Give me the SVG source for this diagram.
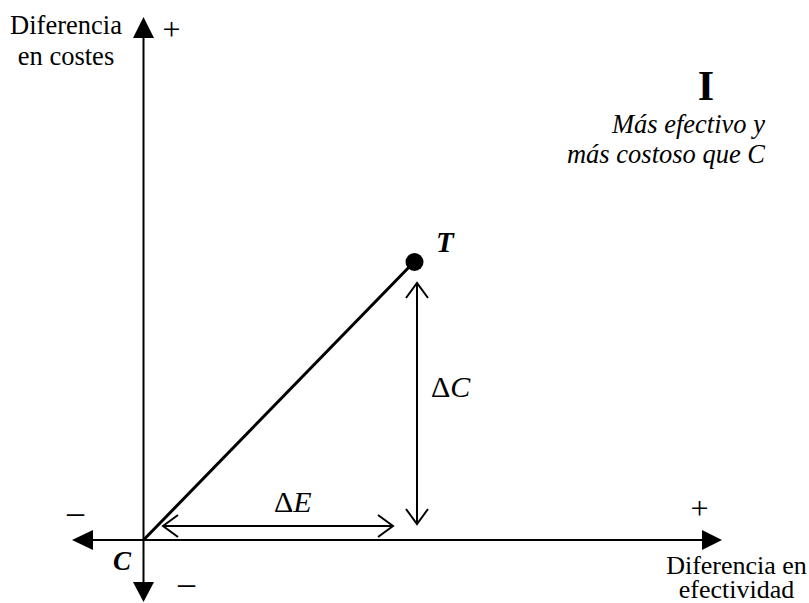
<svg xmlns="http://www.w3.org/2000/svg" width="809" height="603" viewBox="0 0 809 603">
<style>
.t{font-family:"Liberation Serif","Times New Roman",serif;fill:#000}
.ax{stroke:#000;stroke-width:2;fill:none}
.dim{stroke:#000;stroke-width:2;fill:none}
</style>
<defs>
<marker id="open" viewBox="0 0 20 24" refX="18" refY="12" markerWidth="20" markerHeight="24" markerUnits="userSpaceOnUse" orient="auto-start-reverse">
<path d="M3,1 L18,12 L3,23" fill="none" stroke="#000" stroke-width="2"/>
</marker>
</defs>
<rect width="809" height="603" fill="#fff"/>
<g id="connectors">
<line class="ax" x1="143.5" y1="36" x2="143.5" y2="585"/>
<polygon points="143.5,17 133,38 154,38"/>
<polygon points="143.5,602 133,582 154,582"/>
<line class="ax" x1="90" y1="540" x2="705" y2="540"/>
<polygon points="72,540 93,530 93,550"/>
<polygon points="722,540 702,530 702,550"/>
<line x1="143.5" y1="540" x2="414" y2="262" stroke="#000" stroke-width="3"/>
<line class="dim" x1="417" y1="283" x2="417" y2="524" marker-start="url(#open)" marker-end="url(#open)"/>
<line class="dim" x1="163" y1="526" x2="393" y2="526" marker-start="url(#open)" marker-end="url(#open)"/>
</g>
<g id="T">
<circle cx="414.5" cy="262" r="9"/>
<text class="t" x="436" y="252" font-size="29" font-weight="bold" font-style="italic">T</text>
</g>
<g id="C">
<text class="t" x="113" y="570" font-size="27" font-weight="bold" font-style="italic">C</text>
</g>
<g id="labels">
<text class="t" font-size="26.5" text-anchor="middle"><tspan x="66" y="34">Diferencia</tspan><tspan x="66" y="65">en costes</tspan></text>
<text class="t" x="171.5" y="40" font-size="32" text-anchor="middle">+</text>
<text class="t" x="699.5" y="519" font-size="32" text-anchor="middle">+</text>
<text class="t" x="75.5" y="523" font-size="34" text-anchor="middle">–</text>
<text class="t" x="186.5" y="594" font-size="34" text-anchor="middle">–</text>
<text class="t" font-size="26" text-anchor="middle"><tspan x="736.5" y="574">Diferencia en</tspan><tspan x="736.5" y="598">efectividad</tspan></text>
<text class="t" x="431" y="397" font-size="30">Δ<tspan font-style="italic">C</tspan></text>
<text class="t" x="274" y="512" font-size="30">Δ<tspan font-style="italic">E</tspan></text>
<text class="t" x="706" y="100" font-size="42" font-weight="bold" text-anchor="middle">I</text>
<text class="t" font-size="26.5" font-style="italic" text-anchor="end"><tspan x="765" y="133">Más efectivo y</tspan><tspan x="765" y="163">más costoso que C</tspan></text>
</g>
</svg>
